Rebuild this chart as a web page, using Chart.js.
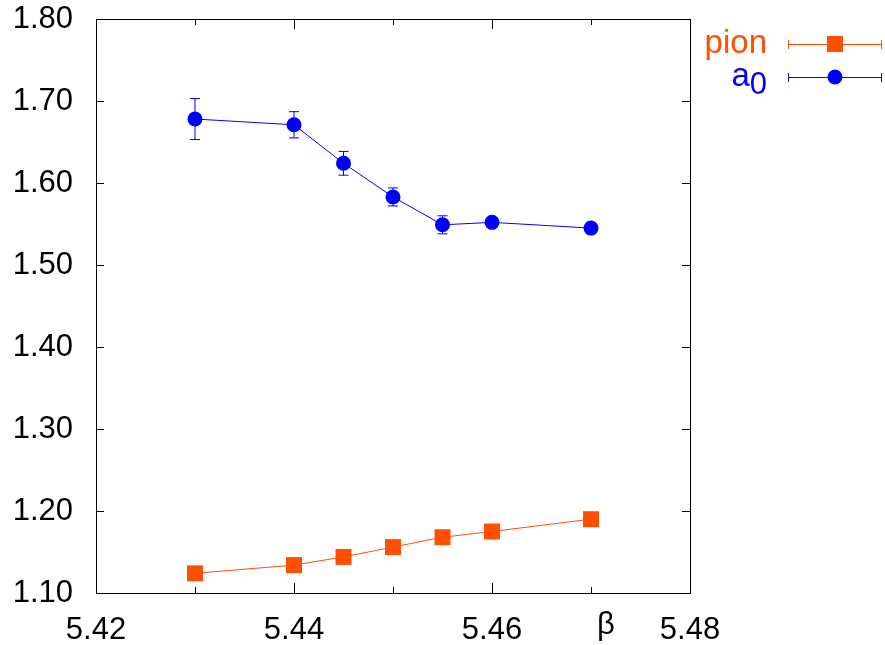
<!DOCTYPE html>
<html lang="en">
<head>
    <meta charset="UTF-8">
    <title>pion and a0 vs beta</title>
    <script src="https://cdn.jsdelivr.net/npm/chart.js@4.4.1/dist/chart.umd.min.js"></script>
    <style>
        body { margin: 0; background: #fff; }
        #wrap { width: 885px; height: 645px; }
    </style>
</head>
<body>
    <div id="wrap"><canvas id="massChart" width="885" height="645"></canvas></div>

    <script>
        // data
        const beta = [5.43, 5.44, 5.445, 5.45, 5.455, 5.46, 5.47];
        const pionMass = [1.124, 1.134, 1.144, 1.156, 1.168, 1.175, 1.190];
        const pionErr = [0.002, 0.002, 0.002, 0.002, 0.002, 0.002, 0.002];
        const a0Mass = [1.678, 1.671, 1.624, 1.583, 1.549, 1.552, 1.545];
        const a0Err = [0.025, 0.016, 0.0145, 0.011, 0.011, 0.002, 0.002];

        const xLabels = { '5.42': '5.42', '5.44': '5.44', '5.46': '5.46', '5.48': '5.48' };
        const betaLabel = 'β';
        const betaLabelAt = 5.47;

        const pionColor = '#ff4f00';
        const a0Color = '#0000ff';
        const fontFamily = '"Liberation Sans", Arial, sans-serif';

        const ctx = document.getElementById('massChart').getContext('2d');

        function toPoints(xs, ys) {
            return xs.map((x, i) => ({ x: x, y: ys[i] }));
        }

        // error bars, inward ticks, frame and the gnuplot-style key
        const extras = {
            id: 'extras',
            afterDatasetsDraw(chart) {
                const c = chart.ctx;
                const xs = chart.scales.x, ys = chart.scales.y;
                const errs = [pionErr, a0Err];
                c.save();
                chart.data.datasets.forEach((ds, di) => {
                    c.strokeStyle = ds.borderColor;
                    c.lineWidth = 1;
                    ds.data.forEach((p, i) => {
                        const px = xs.getPixelForValue(p.x);
                        const top = ys.getPixelForValue(p.y + errs[di][i]);
                        const bot = ys.getPixelForValue(p.y - errs[di][i]);
                        c.beginPath();
                        c.moveTo(px, top); c.lineTo(px, bot);
                        c.moveTo(px - 5, top); c.lineTo(px + 5, top);
                        c.moveTo(px - 5, bot); c.lineTo(px + 5, bot);
                        c.stroke();
                    });
                });
                c.restore();
            },
            afterDraw(chart) {
                const c = chart.ctx;
                const a = chart.chartArea;
                const xs = chart.scales.x, ys = chart.scales.y;
                c.save();
                c.strokeStyle = '#000';
                c.lineWidth = 1;
                c.strokeRect(Math.round(a.left) + 0.5, Math.round(a.top) + 0.5,
                    Math.round(a.right - a.left), Math.round(a.bottom - a.top));
                c.beginPath();
                xs.ticks.forEach(t => {
                    const px = Math.round(xs.getPixelForValue(t.value)) + 0.5;
                    const len = xLabels[t.value.toFixed(2)] ? 10 : 6;
                    c.moveTo(px, a.bottom); c.lineTo(px, a.bottom - len);
                    c.moveTo(px, a.top); c.lineTo(px, a.top + len);
                });
                ys.ticks.forEach(t => {
                    const py = Math.round(ys.getPixelForValue(t.value)) + 0.5;
                    c.moveTo(a.left, py); c.lineTo(a.left + 8, py);
                    c.moveTo(a.right, py); c.lineTo(a.right - 8, py);
                });
                c.stroke();

                // beta label next to the 5.47 tick
                c.fillStyle = '#000';
                c.font = '31px ' + fontFamily;
                c.textAlign = 'center';
                c.textBaseline = 'top';
                c.fillText(betaLabel, xs.getPixelForValue(betaLabelAt) + 15, a.bottom + 17);

                // key
                const rows = [
                    { text: 'pion', sub: '', color: pionColor, shape: 'rect', y: 44 },
                    { text: 'a', sub: '0', color: a0Color, shape: 'circle', y: 77 }
                ];
                const textRight = 767, lineL = 788, lineR = 882, mark = 835;
                rows.forEach(r => {
                    c.fillStyle = r.color;
                    c.strokeStyle = r.color;
                    c.textBaseline = 'alphabetic';
                    c.textAlign = 'right';
                    if (r.sub) {
                        c.font = '31px ' + fontFamily;
                        const sw = c.measureText(r.sub).width;
                        c.fillText(r.sub, textRight, r.y + 17);
                        c.font = '33px ' + fontFamily;
                        c.fillText(r.text, textRight - sw, r.y + 9);
                    } else {
                        c.font = '33px ' + fontFamily;
                        c.fillText(r.text, textRight, r.y + 9);
                    }
                    c.lineWidth = 1;
                    c.beginPath();
                    c.moveTo(lineL, r.y + 0.5); c.lineTo(lineR, r.y + 0.5);
                    c.moveTo(lineL + 0.5, r.y - 4); c.lineTo(lineL + 0.5, r.y + 5);
                    c.moveTo(lineR - 0.5, r.y - 4); c.lineTo(lineR - 0.5, r.y + 5);
                    c.stroke();
                    c.beginPath();
                    if (r.shape === 'rect') {
                        c.rect(mark - 8, r.y - 8, 16, 16);
                    } else {
                        c.arc(mark, r.y, 7.5, 0, Math.PI * 2);
                    }
                    c.fill();
                });
                c.restore();
            }
        };

        const chart = new Chart(ctx, {
            type: 'line',
            data: {
                datasets: [
                    {
                        label: 'pion',
                        data: toPoints(beta, pionMass),
                        borderColor: pionColor,
                        backgroundColor: pionColor,
                        borderWidth: 1,
                        pointStyle: 'rect',
                        pointRadius: 11.3,
                        pointBorderWidth: 0,
                        tension: 0
                    },
                    {
                        label: 'a0',
                        data: toPoints(beta, a0Mass),
                        borderColor: a0Color,
                        backgroundColor: a0Color,
                        borderWidth: 1,
                        pointStyle: 'circle',
                        pointRadius: 7.5,
                        pointBorderWidth: 0,
                        tension: 0
                    }
                ]
            },
            options: {
                responsive: false,
                animation: false,
                layout: { padding: { top: 19, right: 195, left: 0, bottom: 0 } },
                plugins: { legend: { display: false }, tooltip: { enabled: false } },
                scales: {
                    x: {
                        type: 'linear',
                        min: 5.42,
                        max: 5.48,
                        grid: { display: false, drawTicks: false },
                        border: { display: false },
                        afterFit: s => { s.height = 52; s.paddingLeft = 0; s.paddingRight = 0; },
                        ticks: {
                            stepSize: 0.01,
                            padding: 19,
                            maxRotation: 0,
                            autoSkip: false,
                            color: '#000',
                            font: { family: fontFamily, size: 31 },
                            callback: v => xLabels[Number(v).toFixed(2)] || ''
                        }
                    },
                    y: {
                        min: 1.10,
                        max: 1.80,
                        grid: { display: false, drawTicks: false },
                        border: { display: false },
                        afterFit: s => { s.width = 96; s.paddingTop = 0; s.paddingBottom = 0; },
                        ticks: {
                            stepSize: 0.1,
                            padding: 23,
                            color: '#000',
                            font: { family: fontFamily, size: 31 },
                            callback: v => Number(v).toFixed(2)
                        }
                    }
                }
            },
            plugins: [extras]
        });
    </script>
</body>
</html>
